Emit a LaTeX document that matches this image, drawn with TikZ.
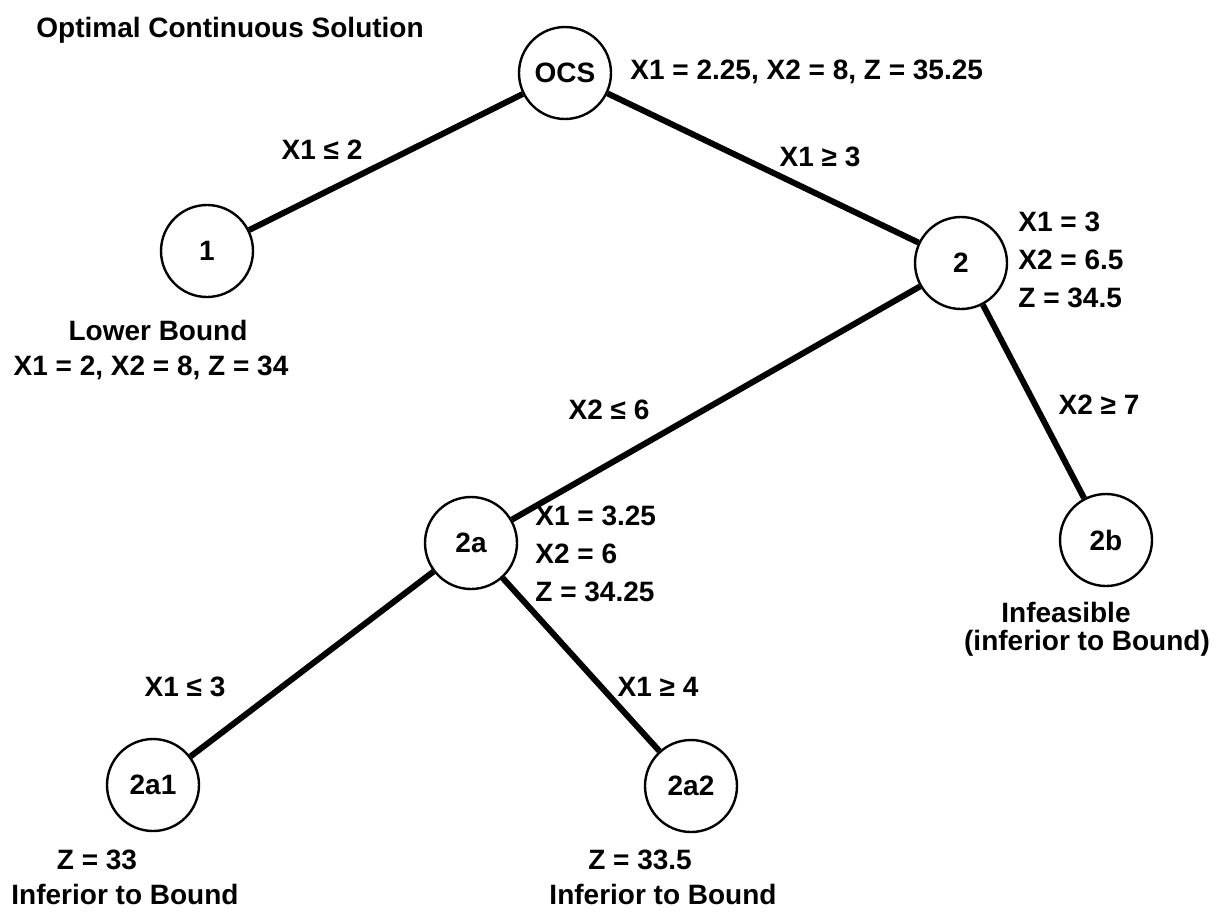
\documentclass[tikz,border=0pt]{standalone}
\usepackage{fontspec}
\setmainfont{Liberation Sans}
\usepackage{tikz}

\begin{document}
\begin{tikzpicture}[x=0.5pt,y=-0.5pt,font=\bfseries\fontsize{14}{19}\selectfont]
\tikzstyle{vertex}=[circle, draw, line width=1.2pt, minimum size=46pt, inner sep=0pt]
\tikzstyle{info}=[inner sep=0pt]
\useasboundingbox (0,0) rectangle (1220,911);

\node[info] (title) at (230,30) {Optimal Continuous Solution};

\node[vertex] (ocs) at (565,73) {OCS};
\node[vertex] (n1) at (207,251) {1};
\node[vertex] (n2) at (961,263) {2};
\node[vertex] (n2a) at (471,543) {2a};
\node[vertex] (n2b) at (1106,540) {2b};
\node[vertex] (n2a1) at (153,785) {2a1};
\node[vertex] (n2a2) at (691,786) {2a2};

\path[line width=3pt]
(ocs) edge (n1)
      edge (n2)
(n2) edge (n2a)
     edge (n2b)
(n2a) edge (n2a1)
      edge (n2a2);

% branch conditions
\node[info] (c1) at (322,150) {X1 ≤ 2};
\node[info] (c2) at (820,157) {X1 ≥ 3};
\node[info] (c2a) at (609,410) {X2 ≤ 6};
\node[info] (c2b) at (1099,405) {X2 ≥ 7};
\node[info] (c2a1) at (185,687) {X1 ≤ 3};
\node[info] (c2a2) at (658,687) {X1 ≥ 4};

% node values
\node[info, anchor=west] (vocs) at (630,72) {X1 = 2.25, X2 = 8, Z = 35.25};
\node[info] (lb) at (158,330) {Lower Bound};
\node[info] (v1) at (151,368) {X1 = 2, X2 = 8, Z = 34};
\node[info, anchor=west, align=left] (v2) at (1018,260) {X1 = 3\\X2 = 6.5\\Z = 34.5};
\node[info, anchor=west, align=left] (v2a) at (535,554) {X1 = 3.25\\X2 = 6\\Z = 34.25};
\node[info] (v2b) at (1066,612) {Infeasible};
\node[info] (r2b) at (1087,643) {(inferior to Bound)};
\node[info] (v2a1) at (97,860) {Z = 33};
\node[info] (r2a1) at (125,894) {Inferior to Bound};
\node[info] (v2a2) at (640,860) {Z = 33.5};
\node[info] (r2a2) at (663,894) {Inferior to Bound};
\end{tikzpicture}
\end{document}
